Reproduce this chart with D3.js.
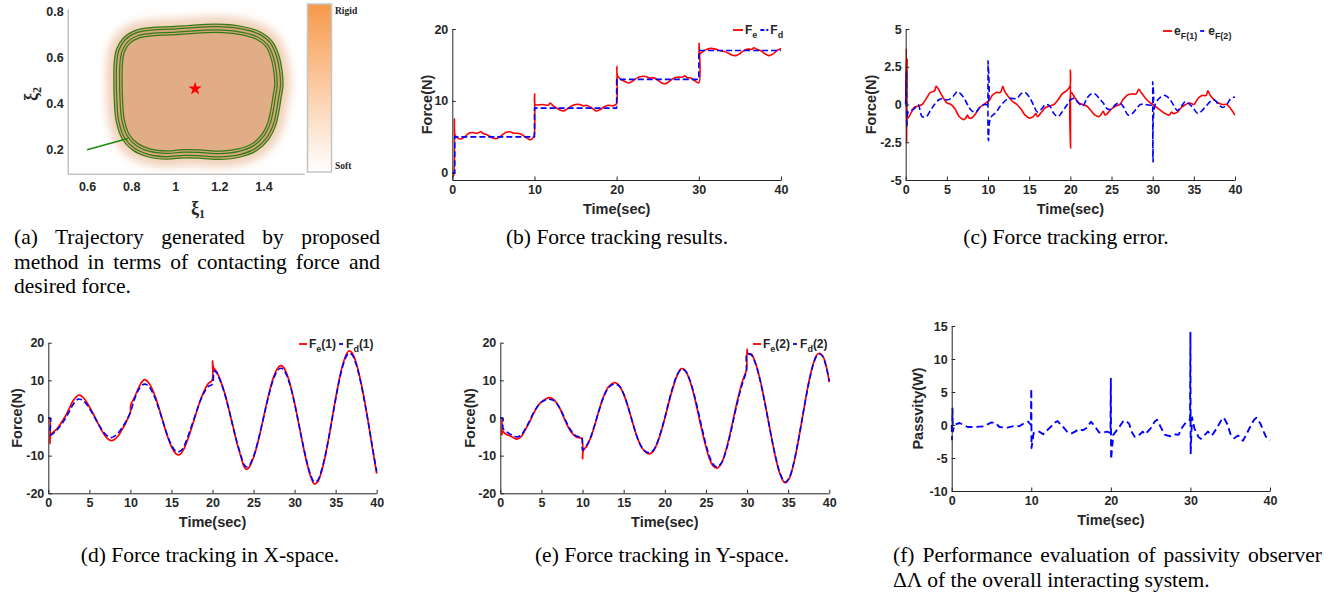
<!DOCTYPE html>
<html>
<head>
<meta charset="utf-8">
<script src="https://cdn.jsdelivr.net/npm/d3@7"></script>
<style>
  body { margin: 0; background: #fff; }
  svg { display: block; }
</style>
</head>
<body>
<svg id="fig" width="1341" height="595"></svg>
<script>
// ---------- data ----------

// (a) trajectory: centre line of the contour band, in (xi1, xi2)
var trajLoop = [[0.74,0.50],[0.742,0.58],[0.752,0.632],[0.78,0.675],[0.83,0.703],[0.90,0.714],[0.98,0.717],
  [1.06,0.722],[1.14,0.727],[1.22,0.727],[1.30,0.718],[1.375,0.697],[1.425,0.66],[1.452,0.605],[1.466,0.54],
  [1.47,0.48],[1.462,0.43],[1.452,0.37],[1.437,0.31],[1.41,0.258],[1.36,0.212],[1.29,0.186],[1.20,0.176],
  [1.12,0.181],[1.04,0.183],[0.96,0.177],[0.88,0.187],[0.82,0.212],[0.776,0.256],[0.75,0.33],[0.742,0.42]];
var approachPath = [[0.6,0.2],[0.785,0.249]];
var equilibrium = [[1.09,0.465]];
var xiTicksX = [0.6,0.8,1,1.2,1.4];
var xiTicksY = [0.2,0.4,0.6,0.8];

// (b) force tracking
var forceDesired = [[0,0],[0.3,0],[0.3,5],[10,5],[10,9],[20,9],[20,13],[30,13],[30,17],[40,17]];
var forceContact = [[0,-0.6],[0.15,-0.4],[0.25,7.5],[0.35,5.2],[0.6,4.9],[1,4.7],[1.5,5.0],[2,5.5],[2.5,5.6],
  [3,5.5],[3.5,5.7],[3.7,5.5],[4.2,5.3],[5,4.8],[5.5,4.8],[6,5.2],[6.5,5.6],[7,5.7],[7.5,5.5],[8,5.5],[8.5,5.3],
  [9,4.9],[9.5,4.6],[9.9,5.0],[10,5.4],[10.03,11.0],[10.1,9.5],[11,9.5],[11.7,9.4],[11.9,9.7],[12.3,9.3],[13,8.8],
  [13.5,8.6],[14,8.9],[14.5,9.3],[15,9.5],[15.5,9.5],[16,9.3],[16.3,9.4],[17,9.0],[17.5,8.6],[18,8.8],[18.5,9.2],
  [19,9.4],[19.5,9.3],[19.9,9.5],[20,9.6],[20.03,14.8],[20.1,13.5],[20.5,13.0],[21,12.7],[21.5,12.5],[22,12.8],
  [22.5,13.2],[23,13.4],[23.5,13.4],[24,13.2],[24.5,13.2],[25,12.9],[25.5,12.5],[26,12.4],[26.5,12.8],[27,13.2],
  [27.5,13.3],[28,13.3],[28.3,13.5],[28.6,13.2],[29,13.2],[29.5,12.8],[30,12.5],[30.03,18.0],[30.1,16.5],
  [30.5,16.9],[31,17.2],[31.5,17.3],[32,17.2],[32.5,17.0],[33,16.9],[33.5,16.7],[34,16.4],[34.5,16.3],[35,16.6],
  [35.5,17.0],[36,17.2],[36.5,17.2],[36.7,17.4],[37,17.2],[37.5,17.0],[38,16.6],[38.5,16.3],[39,16.5],
  [39.5,17.0],[40,17.3]];

// (c) tracking error
var errorX = [[0,0],[0.08,3.7],[0.12,-2.5],[0.18,3.0],[0.25,-0.9],[0.4,-0.8],[0.8,-0.4],[1,-0.2],[1.5,-0.1],
  [2,0.0],[2.5,0.4],[3,0.8],[3.5,0.9],[3.7,1.2],[4,1.0],[4.5,0.5],[5,0.1],[5.5,0.0],[6,-0.3],[6.5,-0.8],[7,-1.0],
  [7.3,-0.9],[7.5,-0.7],[7.7,-0.9],[8,-0.9],[8.5,-0.6],[9,-0.2],[9.5,0.0],[10,0.2],[10.2,0.3],[10.5,0.6],[11,0.8],
  [11.5,0.8],[11.8,1.2],[12,0.9],[12.5,0.5],[13,0.2],[13.5,0.0],[14,-0.3],[14.5,-0.7],[15,-0.9],[15.5,-0.8],
  [15.8,-0.6],[16,-0.8],[16.5,-0.5],[17,-0.2],[17.5,-0.1],[18,0.0],[18.5,0.3],[19,0.7],[19.5,0.9],[19.95,1.2],
  [20,2.3],[20.03,-2.9],[20.08,0.8],[20.5,0.5],[21,0.1],[21.5,0.0],[22,-0.1],[22.5,-0.4],[23,-0.7],[23.5,-0.8],
  [24,-0.45],[24.2,-0.7],[24.5,-0.6],[25,-0.3],[25.5,-0.1],[26,0.0],[26.5,0.4],[27,0.65],[27.5,0.7],[28,0.7],
  [28.3,1.0],[28.6,0.8],[29,0.5],[29.5,0.2],[30,0.0],[30.5,-0.2],[31,-0.4],[31.5,-0.6],[32,-0.7],[32.3,-0.5],
  [32.5,-0.6],[33,-0.5],[33.5,-0.2],[34,0.0],[34.5,0.1],[35,0.0],[35.5,0.4],[36,0.6],[36.5,0.6],[36.7,0.9],
  [37,0.6],[37.5,0.3],[38,0.1],[38.5,0.0],[39,0.0],[39.5,-0.3],[40,-0.7]];
var errorY = [[0,0],[0.1,2.2],[0.15,-1.5],[0.3,-0.5],[1,-0.3],[1.5,0.0],[2,-0.8],[2.5,-0.8],[3,-0.4],[3.5,0.0],
  [4,0.3],[4.5,0.4],[5,0.3],[5.5,0.4],[6,0.7],[6.3,0.85],[7,0.5],[7.5,0.0],[8,-0.4],[8.5,-0.5],[9,-0.2],[9.5,0.0],
  [9.95,0.0],[10,2.9],[10.05,-2.4],[10.3,-0.9],[11,-0.5],[11.5,-0.1],[12,0.2],[12.5,0.4],[13,0.4],[13.5,0.4],
  [14,0.7],[14.5,0.8],[15,0.5],[15.5,0.0],[16,-0.5],[16.5,-0.3],[17,0.0],[17.5,-0.1],[18,-0.6],[18.5,-0.8],
  [19,-0.5],[19.5,-0.1],[20,0.3],[20.5,0.4],[21,0.1],[21.5,-0.1],[22,0.4],[22.5,0.7],[23,0.7],[23.5,0.4],
  [24,0.1],[24.5,-0.3],[25,-0.3],[25.5,0.0],[26,0.1],[26.5,-0.2],[27,-0.7],[27.5,-0.6],[28,-0.3],[28.5,0.0],
  [29,0.0],[29.95,0.0],[30,1.5],[30.05,-3.8],[30.3,0.0],[31,0.5],[31.5,0.6],[32,0.4],[32.5,0.0],[33,-0.4],
  [33.5,-0.1],[34,0.2],[34.5,0.0],[35,-0.3],[35.5,-0.6],[36,-0.4],[36.5,-0.1],[37,0.2],[37.5,0.3],[38,0.0],
  [38.5,-0.2],[39,0.0],[39.5,0.4],[40,0.5]];

// (d) X-space
var forceContactX = [[0,0],[0.15,0],[0.2,-6.8],[0.3,-4.5],[1,-3.0],[1.5,-1.5],[2,0.2],[2.5,2.3],[3,4.5],[3.4,5.6],
  [3.7,6.1],[4,5.9],[4.5,4.8],[5,3.0],[5.5,1.0],[6,-1.2],[6.5,-3.3],[7,-5.0],[7.4,-5.8],[7.7,-6.0],[8,-5.8],
  [8.5,-4.8],[9,-3.0],[9.5,-1.0],[9.9,1.0],[10,1.5],[10.05,3.5],[10.5,5.5],[11,8.0],[11.4,9.6],[11.7,10.2],
  [12,9.9],[12.5,8.4],[13,5.8],[13.5,2.5],[14,-1.2],[14.5,-4.8],[15,-7.6],[15.5,-9.4],[15.8,-9.8],[16.1,-9.6],
  [16.5,-8.3],[17,-5.6],[17.5,-2.3],[18,1.2],[18.5,4.6],[19,7.3],[19.5,9.2],[19.95,10.0],[20,15.2],[20.1,13.5],
  [20.5,12.3],[21,9.8],[21.5,6.5],[22,2.3],[22.5,-2.3],[23,-6.8],[23.5,-10.6],[23.8,-12.7],[24.1,-13.6],
  [24.4,-13.3],[25,-10.5],[25.5,-6.7],[26,-2.0],[26.5,3.0],[27,7.6],[27.5,11.3],[28,13.4],[28.3,13.9],
  [28.6,13.6],[29,12.0],[29.5,8.6],[30,4.0],[30.5,-1.5],[31,-7.0],[31.5,-12.0],[32,-15.8],[32.4,-17.5],
  [32.8,-17.0],[33.2,-14.8],[33.7,-10.5],[34.2,-4.8],[34.7,1.5],[35.2,7.6],[35.7,12.8],[36.2,16.4],[36.6,17.8],
  [37,17.3],[37.5,14.6],[38,10.3],[38.5,4.8],[39,-1.5],[39.5,-8.3],[40,-14.8]];
var forceDesiredX = [[0,0],[0.25,0],[0.3,-4.5],[1,-3.3],[1.5,-2.0],[2,-0.4],[2.5,1.5],[3,3.5],[3.6,5.0],[4,4.9],
  [4.5,4.1],[5,2.6],[5.5,0.7],[6,-1.2],[6.5,-3.0],[7,-4.4],[7.6,-5.2],[8,-4.9],[8.5,-4.0],[9,-2.5],[9.5,-0.8],
  [10,1.5],[10.5,5.0],[11,7.5],[11.4,8.7],[11.8,9.0],[12.2,8.5],[12.5,7.6],[13,5.3],[13.5,2.2],[14,-1.2],
  [14.5,-4.6],[15,-7.2],[15.5,-8.8],[15.8,-9.0],[16.2,-8.6],[16.5,-7.6],[17,-5.0],[17.5,-1.8],[18,1.4],
  [18.5,4.5],[19,6.8],[19.5,8.4],[20,9.0],[20.2,12.5],[20.5,12.0],[21,9.6],[21.5,6.3],[22,2.2],[22.5,-2.3],
  [23,-6.6],[23.5,-10.2],[23.8,-12.2],[24.1,-13.0],[24.4,-12.8],[25,-10.2],[25.5,-6.5],[26,-2.0],[26.5,2.8],
  [27,7.2],[27.5,10.8],[28,12.8],[28.3,13.2],[28.6,13.0],[29,11.5],[29.5,8.3],[30,3.8],[30.5,-1.5],[31,-6.8],
  [31.5,-11.7],[32,-15.4],[32.4,-17.0],[32.8,-16.6],[33.2,-14.5],[33.7,-10.3],[34.2,-4.8],[34.7,1.3],[35.2,7.3],
  [35.7,12.4],[36.2,15.9],[36.6,17.2],[37,16.8],[37.5,14.2],[38,10.0],[38.5,4.6],[39,-1.5],[39.5,-8.0],[40,-14.2]];

// (e) Y-space
var forceContactY = [[0,0],[0.15,0],[0.2,-4.5],[0.3,-3.5],[0.6,-4.2],[1,-4.6],[1.5,-5.1],[2,-5.6],[2.5,-5.0],
  [3,-3.3],[3.5,-1.3],[4,1.0],[4.5,3.0],[5,4.3],[5.5,5.0],[5.9,5.4],[6.3,5.2],[6.8,4.2],[7.3,2.3],[7.8,-0.3],
  [8.3,-2.6],[8.8,-4.2],[9.3,-5.1],[9.9,-5.5],[10,-10.8],[10.1,-8.6],[10.5,-7.5],[11,-5.2],[11.5,-1.8],[12,2.0],
  [12.5,5.4],[13,7.8],[13.5,9.0],[13.9,9.4],[14.3,9.0],[14.8,7.3],[15.3,4.5],[15.8,1.0],[16.3,-2.8],[16.8,-6.0],
  [17.3,-8.2],[17.8,-9.3],[18.2,-9.5],[18.6,-8.8],[19.1,-6.6],[19.6,-3.3],[20.1,0.8],[20.6,5.0],[21.1,8.8],
  [21.6,11.8],[22,13.1],[22.4,12.8],[22.9,10.8],[23.4,7.3],[23.9,2.8],[24.4,-2.2],[24.9,-6.8],[25.4,-10.6],
  [25.9,-12.8],[26.4,-13.3],[26.9,-12.0],[27.4,-8.8],[27.9,-4.5],[28.4,0.5],[28.9,5.3],[29.4,9.5],[29.9,12.5],
  [29.95,12.8],[30,18.3],[30.1,17.0],[30.5,17.0],[31,14.8],[31.5,11.0],[32,6.0],[32.5,0.3],[33,-5.5],
  [33.5,-10.8],[34,-14.8],[34.6,-17.2],[35.1,-16.2],[35.6,-12.8],[36.1,-7.6],[36.6,-1.5],[37.1,4.8],[37.6,10.5],
  [38.1,14.8],[38.5,16.8],[38.8,17.2],[39.2,16.5],[39.6,14.0],[40,9.5]];
var forceDesiredY = [[0,0],[0.3,0],[0.35,-2.8],[1,-4.0],[1.5,-4.6],[2,-5.0],[2.5,-4.6],[3,-3.0],[3.5,-1.0],
  [4,1.2],[4.5,3.0],[5,4.2],[5.5,4.8],[6,5.0],[6.5,4.6],[7,3.4],[7.5,1.5],[8,-0.9],[8.5,-3.0],[9,-4.4],[9.5,-5.0],
  [9.9,-5.0],[10,-8.5],[10.5,-7.3],[11,-5.0],[11.5,-1.6],[12,2.0],[12.5,5.2],[13,7.5],[13.5,8.7],[14,9.0],
  [14.5,8.4],[15,6.4],[15.5,3.2],[16,-0.6],[16.5,-4.2],[17,-7.0],[17.5,-8.6],[18,-9.2],[18.5,-8.8],[19,-7.0],
  [19.5,-3.8],[20,0.0],[20.5,4.5],[21,8.4],[21.5,11.5],[22,12.9],[22.5,12.5],[23,10.3],[23.5,6.8],[24,2.4],
  [24.5,-2.5],[25,-7.0],[25.5,-10.6],[26,-12.6],[26.4,-13.0],[27,-11.5],[27.5,-8.3],[28,-4.0],[28.5,1.0],
  [29,5.7],[29.5,9.6],[29.9,12.3],[30,17.0],[30.5,16.8],[31,14.6],[31.5,10.8],[32,5.8],[32.5,0.2],[33,-5.5],
  [33.5,-10.6],[34,-14.6],[34.6,-17.0],[35.1,-16.0],[35.6,-12.6],[36.1,-7.5],[36.6,-1.5],[37.1,4.7],[37.6,10.3],
  [38.1,14.6],[38.5,16.6],[38.8,17.0],[39.2,16.3],[39.6,13.8],[40,9.8]];

// (f) passivity observer
var passivity = [[0,0],[0.05,-2.2],[0.1,2.5],[0.15,-1.0],[0.3,0],[1,0.3],[1.5,0.0],[2,-0.3],[3,-0.3],[4,-0.2],
  [5,0.4],[5.5,0.3],[6,-0.3],[7,-0.4],[8,-0.1],[8.5,-0.2],[9,0.2],[9.6,0.5],[9.95,0],[10,5.5],[10.03,-3.5],
  [10.3,-1.2],[11,-1.0],[11.5,-1.4],[12,-0.8],[12.5,-0.2],[13,0.4],[13.3,0.6],[14,-0.3],[14.5,-1.0],[15,-1.3],
  [15.5,-1.0],[16,-0.6],[16.5,-0.8],[17,-0.4],[17.5,0.5],[18,-0.2],[18.5,-1.1],[19,-1.2],[19.5,-1.0],
  [19.95,-1.2],[20,7.0],[20.03,-5.2],[20.3,-1.5],[21,-0.4],[21.5,0.5],[21.8,0.7],[22.3,0.2],[22.6,-1.0],
  [23,-1.8],[23.5,-1.6],[24,-1.0],[24.3,-1.4],[25,-0.5],[25.5,0.5],[25.8,0.8],[26.3,-0.4],[26.8,-1.5],
  [27.5,-1.7],[28,-1.4],[28.5,-1.5],[29,-0.3],[29.5,0.5],[29.95,0.8],[30,14.0],[30.03,-4.3],[30.2,1.2],
  [30.5,-0.5],[31,-1.8],[31.3,-2.1],[31.8,-1.5],[32.2,-1.0],[32.7,-1.6],[33.3,-0.5],[34,1.0],[34.2,1.1],
  [34.7,0.0],[35,-1.3],[35.5,-2.0],[36,-1.6],[36.6,-2.4],[37,-1.5],[37.5,-0.3],[38,0.8],[38.3,1.1],[38.8,0.2],
  [39.2,-1.0],[39.5,-1.8],[40,-2.3]];

var timeTicks10 = [0,10,20,30,40];
var timeTicks5 = [0,5,10,15,20,25,30,35,40];
var forceTicksB = [0,10,20];
var errorTicks = [-5,-2.5,0,2.5,5];
var forceTicksXY = [-20,-10,0,10,20];
var passTicks = [-10,-5,0,5,10,15];

// ---------- drawing ----------
var svg = d3.select("#fig");
var INK = "#262626", RED = "#ff0000", BLUE = "#0000ff";
var SANS = "'Liberation Sans', Arial, sans-serif", SERIF = "'Liberation Serif', 'Times New Roman', serif";
var defs = svg.append("defs");

function styleAxis(g) {
  g.attr("font-family", SANS).attr("font-size", 12.5).attr("font-weight", "bold");
  g.select(".domain").attr("stroke", INK).attr("stroke-width", 1);
  g.selectAll(".tick line").attr("stroke", INK);
  g.selectAll(".tick text").attr("fill", INK);
}

function legend(g, x0, y, items) {
  var cx = x0;
  items.forEach(function(it) {
    g.append("line").attr("x1", cx).attr("x2", cx + it.len).attr("y1", y).attr("y2", y)
      .attr("stroke", it.color).attr("stroke-width", 1.8).attr("stroke-dasharray", it.dash || null);
    cx += it.len + 2;
    var t = g.append("text").attr("x", cx).attr("y", y + 4)
      .attr("font-family", SANS).attr("font-weight", "bold").attr("font-size", 12).attr("fill", INK);
    var shifted = 0;
    it.parts.forEach(function(p) {
      var ts = t.append("tspan").text(p.t);
      if (p.sub) { ts.attr("font-size", 9).attr("dy", 4 - shifted); shifted = 4; }
      else if (shifted) { ts.attr("dy", -shifted); shifted = 0; }
    });
    cx += t.node().getComputedTextLength() + 3;
  });
}

function timePanel(o) {
  var x = d3.scaleLinear().domain([0, 40]).range([o.x0, o.x1]);
  var y = d3.scaleLinear().domain(o.yDomain).range([o.yBottom, o.yTop]);
  var g = svg.append("g");
  o.series.forEach(function(s) {
    g.append("path").datum(s.data)
      .attr("d", d3.line().x(function(d) { return x(d[0]); }).y(function(d) { return y(d[1]); })
        .curve(s.curve || d3.curveLinear))
      .attr("fill", "none").attr("stroke", s.color).attr("stroke-width", s.width)
      .attr("stroke-dasharray", s.dash || null).attr("stroke-linejoin", "round");
  });
  g.append("g").attr("transform", "translate(0," + o.yBottom + ")")
    .call(d3.axisBottom(x).tickValues(o.xTicks).tickSizeInner(-3.5).tickSizeOuter(0).tickPadding(5)
      .tickFormat(function(d) { return String(d); }))
    .call(styleAxis);
  g.append("g").attr("transform", "translate(" + o.x0 + ",0)")
    .call(d3.axisLeft(y).tickValues(o.yTicks).tickSizeInner(-3.5).tickSizeOuter(0).tickPadding(4)
      .tickFormat(function(d) { return String(d); }))
    .call(styleAxis);
  g.append("text").attr("x", (o.x0 + o.x1) / 2).attr("y", o.yBottom + 34).attr("text-anchor", "middle")
    .attr("font-family", SANS).attr("font-weight", "bold").attr("font-size", 14.5).attr("fill", INK)
    .text("Time(sec)");
  g.append("text").attr("transform", "translate(" + o.yLabelX + "," + (o.yBottom + o.yTop) / 2 + ") rotate(-90)")
    .attr("text-anchor", "middle").attr("dy", "0.35em")
    .attr("font-family", SANS).attr("font-weight", "bold").attr("font-size", 14.5).attr("fill", INK)
    .text(o.yLabel);
  if (o.legend) legend(g, o.legend.x, o.legend.y, o.legend.items);
}

var smooth = d3.curveCatmullRom.alpha(0.5);

// (b)
timePanel({ x0: 452.3, x1: 781, yBottom: 180, yTop: 29, yDomain: [-1, 20],
  xTicks: timeTicks10, yTicks: forceTicksB, yLabel: "Force(N)", yLabelX: 427,
  series: [
    { data: forceContact, color: RED, width: 1.6, curve: smooth },
    { data: forceDesired, color: BLUE, width: 1.6, dash: "6,3" }
  ],
  legend: { x: 733, y: 30, items: [
    { len: 10, color: RED, parts: [{ t: "F" }, { t: "e", sub: true }] },
    { len: 8, color: BLUE, dash: "4,2", parts: [{ t: "F" }, { t: "d", sub: true }] }
  ] }
});

// (c)
timePanel({ x0: 905.7, x1: 1235, yBottom: 180, yTop: 29, yDomain: [-5, 5],
  xTicks: timeTicks5, yTicks: errorTicks, yLabel: "Force(N)", yLabelX: 871,
  series: [
    { data: errorX, color: RED, width: 1.6, curve: smooth },
    { data: errorY, color: BLUE, width: 1.6, dash: "6,3", curve: smooth }
  ],
  legend: { x: 1163, y: 31, items: [
    { len: 9, color: RED, parts: [{ t: "e" }, { t: "F(1)", sub: true }] },
    { len: 6, color: BLUE, dash: "4,2", parts: [{ t: "e" }, { t: "F(2)", sub: true }] }
  ] }
});

// (d)
timePanel({ x0: 48.3, x1: 376.7, yBottom: 493.3, yTop: 342.7, yDomain: [-20, 20],
  xTicks: timeTicks5, yTicks: forceTicksXY, yLabel: "Force(N)", yLabelX: 17,
  series: [
    { data: forceContactX, color: RED, width: 1.7, curve: smooth },
    { data: forceDesiredX, color: BLUE, width: 1.6, dash: "6,3", curve: smooth }
  ],
  legend: { x: 299, y: 344, items: [
    { len: 8, color: RED, parts: [{ t: "F" }, { t: "e", sub: true }, { t: "(1)" }] },
    { len: 5, color: BLUE, dash: "4,2", parts: [{ t: "F" }, { t: "d", sub: true }, { t: "(1)" }] }
  ] }
});

// (e)
timePanel({ x0: 500.3, x1: 829.3, yBottom: 493.3, yTop: 342.7, yDomain: [-20, 20],
  xTicks: timeTicks5, yTicks: forceTicksXY, yLabel: "Force(N)", yLabelX: 470,
  series: [
    { data: forceContactY, color: RED, width: 1.7, curve: smooth },
    { data: forceDesiredY, color: BLUE, width: 1.6, dash: "6,3", curve: smooth }
  ],
  legend: { x: 753, y: 344, items: [
    { len: 8, color: RED, parts: [{ t: "F" }, { t: "e", sub: true }, { t: "(2)" }] },
    { len: 5, color: BLUE, dash: "4,2", parts: [{ t: "F" }, { t: "d", sub: true }, { t: "(2)" }] }
  ] }
});

// (f)
timePanel({ x0: 951.7, x1: 1270, yBottom: 491, yTop: 326, yDomain: [-10, 15],
  xTicks: timeTicks10, yTicks: passTicks, yLabel: "Passvity(W)", yLabelX: 918,
  series: [
    { data: passivity, color: BLUE, width: 1.9, dash: "7,4" }
  ]
});

// (a) trajectory on the stiffness map
(function() {
  var x = d3.scaleLinear().domain([0.512, 1.585]).range([67.7, 304.2]);
  var y = d3.scaleLinear().domain([0.096, 0.812]).range([173.7, 8.9]);
  var g = svg.append("g");
  var loop = d3.line().x(function(d) { return x(d[0]); }).y(function(d) { return y(d[1]); })
    .curve(d3.curveCatmullRomClosed.alpha(0.5));

  defs.append("filter").attr("id", "soft").attr("x", "-30%").attr("y", "-30%")
    .attr("width", "160%").attr("height", "160%")
    .append("feGaussianBlur").attr("stdDeviation", 4.5);

  g.append("path").datum(trajLoop).attr("d", loop).attr("fill", "#f1d2bb")
    .attr("stroke", "#f1d2bb").attr("stroke-width", 24).attr("filter", "url(#soft)");
  g.append("path").datum(trajLoop).attr("d", loop).attr("fill", "#e1ad86").attr("stroke", "none");
  // four passes of the spiral drawn as nested strokes of the same centre line
  [[9.5, "#2f7d12"], [7, "#d9a57e"], [4.5, "#2f7d12"], [2, "#d9a57e"]].forEach(function(b) {
    g.append("path").datum(trajLoop).attr("d", loop).attr("fill", "none")
      .attr("stroke", b[1]).attr("stroke-width", b[0]);
  });
  g.append("path").datum(approachPath)
    .attr("d", d3.line().x(function(d) { return x(d[0]); }).y(function(d) { return y(d[1]); }))
    .attr("stroke", "#1e8a0e").attr("stroke-width", 1.6).attr("fill", "none");
  g.selectAll(".star").data(equilibrium).join("path")
    .attr("transform", function(d) { return "translate(" + x(d[0]) + "," + y(d[1]) + ")"; })
    .attr("d", d3.symbol(d3.symbolStar, 55)).attr("fill", RED);

  var ax = g.append("g").attr("transform", "translate(0,173.7)")
    .call(d3.axisBottom(x).tickValues(xiTicksX).tickSize(0).tickPadding(8).tickFormat(function(d) { return String(d); }));
  var ay = g.append("g").attr("transform", "translate(67.7,0)")
    .call(d3.axisLeft(y).tickValues(xiTicksY).tickSize(0).tickPadding(4).tickFormat(function(d) { return String(d); }));
  [ax, ay].forEach(function(a) {
    styleAxis(a);
    a.select(".domain").attr("stroke", "#a6a6a6");
  });

  g.append("text").attr("x", 198).attr("y", 214).attr("text-anchor", "middle")
    .attr("font-family", SERIF).attr("font-weight", "bold").attr("font-size", 18).attr("fill", INK)
    .call(function(t) { t.append("tspan").text("ξ"); t.append("tspan").text("1").attr("font-size", 12).attr("dy", 4); });
  g.append("text").attr("transform", "translate(37,94) rotate(-90)").attr("text-anchor", "middle")
    .attr("font-family", SERIF).attr("font-weight", "bold").attr("font-size", 18).attr("fill", INK)
    .call(function(t) { t.append("tspan").text("ξ"); t.append("tspan").text("2").attr("font-size", 12).attr("dy", 4); });

  var grad = defs.append("linearGradient").attr("id", "stiff").attr("x1", 0).attr("y1", 0).attr("x2", 0).attr("y2", 1);
  grad.append("stop").attr("offset", 0).attr("stop-color", "#f6994a");
  grad.append("stop").attr("offset", 1).attr("stop-color", "#ffffff");
  g.append("rect").attr("x", 307.5).attr("y", 4).attr("width", 24).attr("height", 168)
    .attr("fill", "url(#stiff)").attr("stroke", "#c4c4c4").attr("stroke-width", 1.5);
  g.append("text").attr("x", 335).attr("y", 14).text("Rigid")
    .attr("font-family", SERIF).attr("font-weight", "bold").attr("font-size", 9.5).attr("fill", "#222");
  g.append("text").attr("x", 335).attr("y", 169).text("Soft")
    .attr("font-family", SERIF).attr("font-weight", "bold").attr("font-size", 9.5).attr("fill", "#222");
})();

// ---------- captions ----------
function caption(x, yb, str, opts) {
  var t = svg.append("text").attr("x", x).attr("y", yb).text(str)
    .attr("font-family", SERIF).attr("font-size", 21.5).attr("fill", "#000");
  if (opts && opts.anchor) t.attr("text-anchor", opts.anchor);
  if (opts && opts.width) {
    // justify by widening the word gaps only
    var natural = t.node().getComputedTextLength();
    var gaps = str.split(" ").length - 1;
    if (gaps > 0 && opts.width > natural) t.attr("word-spacing", (opts.width - natural) / gaps);
  }
  return t;
}
caption(14, 244, "(a) Trajectory generated by proposed", { width: 366 });
caption(14, 268.5, "method in terms of contacting force and", { width: 366 });
caption(14, 293, "desired force.");
caption(617, 244, "(b) Force tracking results.", { anchor: "middle" });
caption(1066, 244, "(c) Force tracking error.", { anchor: "middle" });
caption(210, 562, "(d) Force tracking in X-space.", { anchor: "middle" });
caption(662, 562, "(e) Force tracking in Y-space.", { anchor: "middle" });
caption(893, 562, "(f) Performance evaluation of passivity observer", { width: 429 });
caption(893, 586.5, "ΔΛ of the overall interacting system.");
</script>
</body>
</html>
